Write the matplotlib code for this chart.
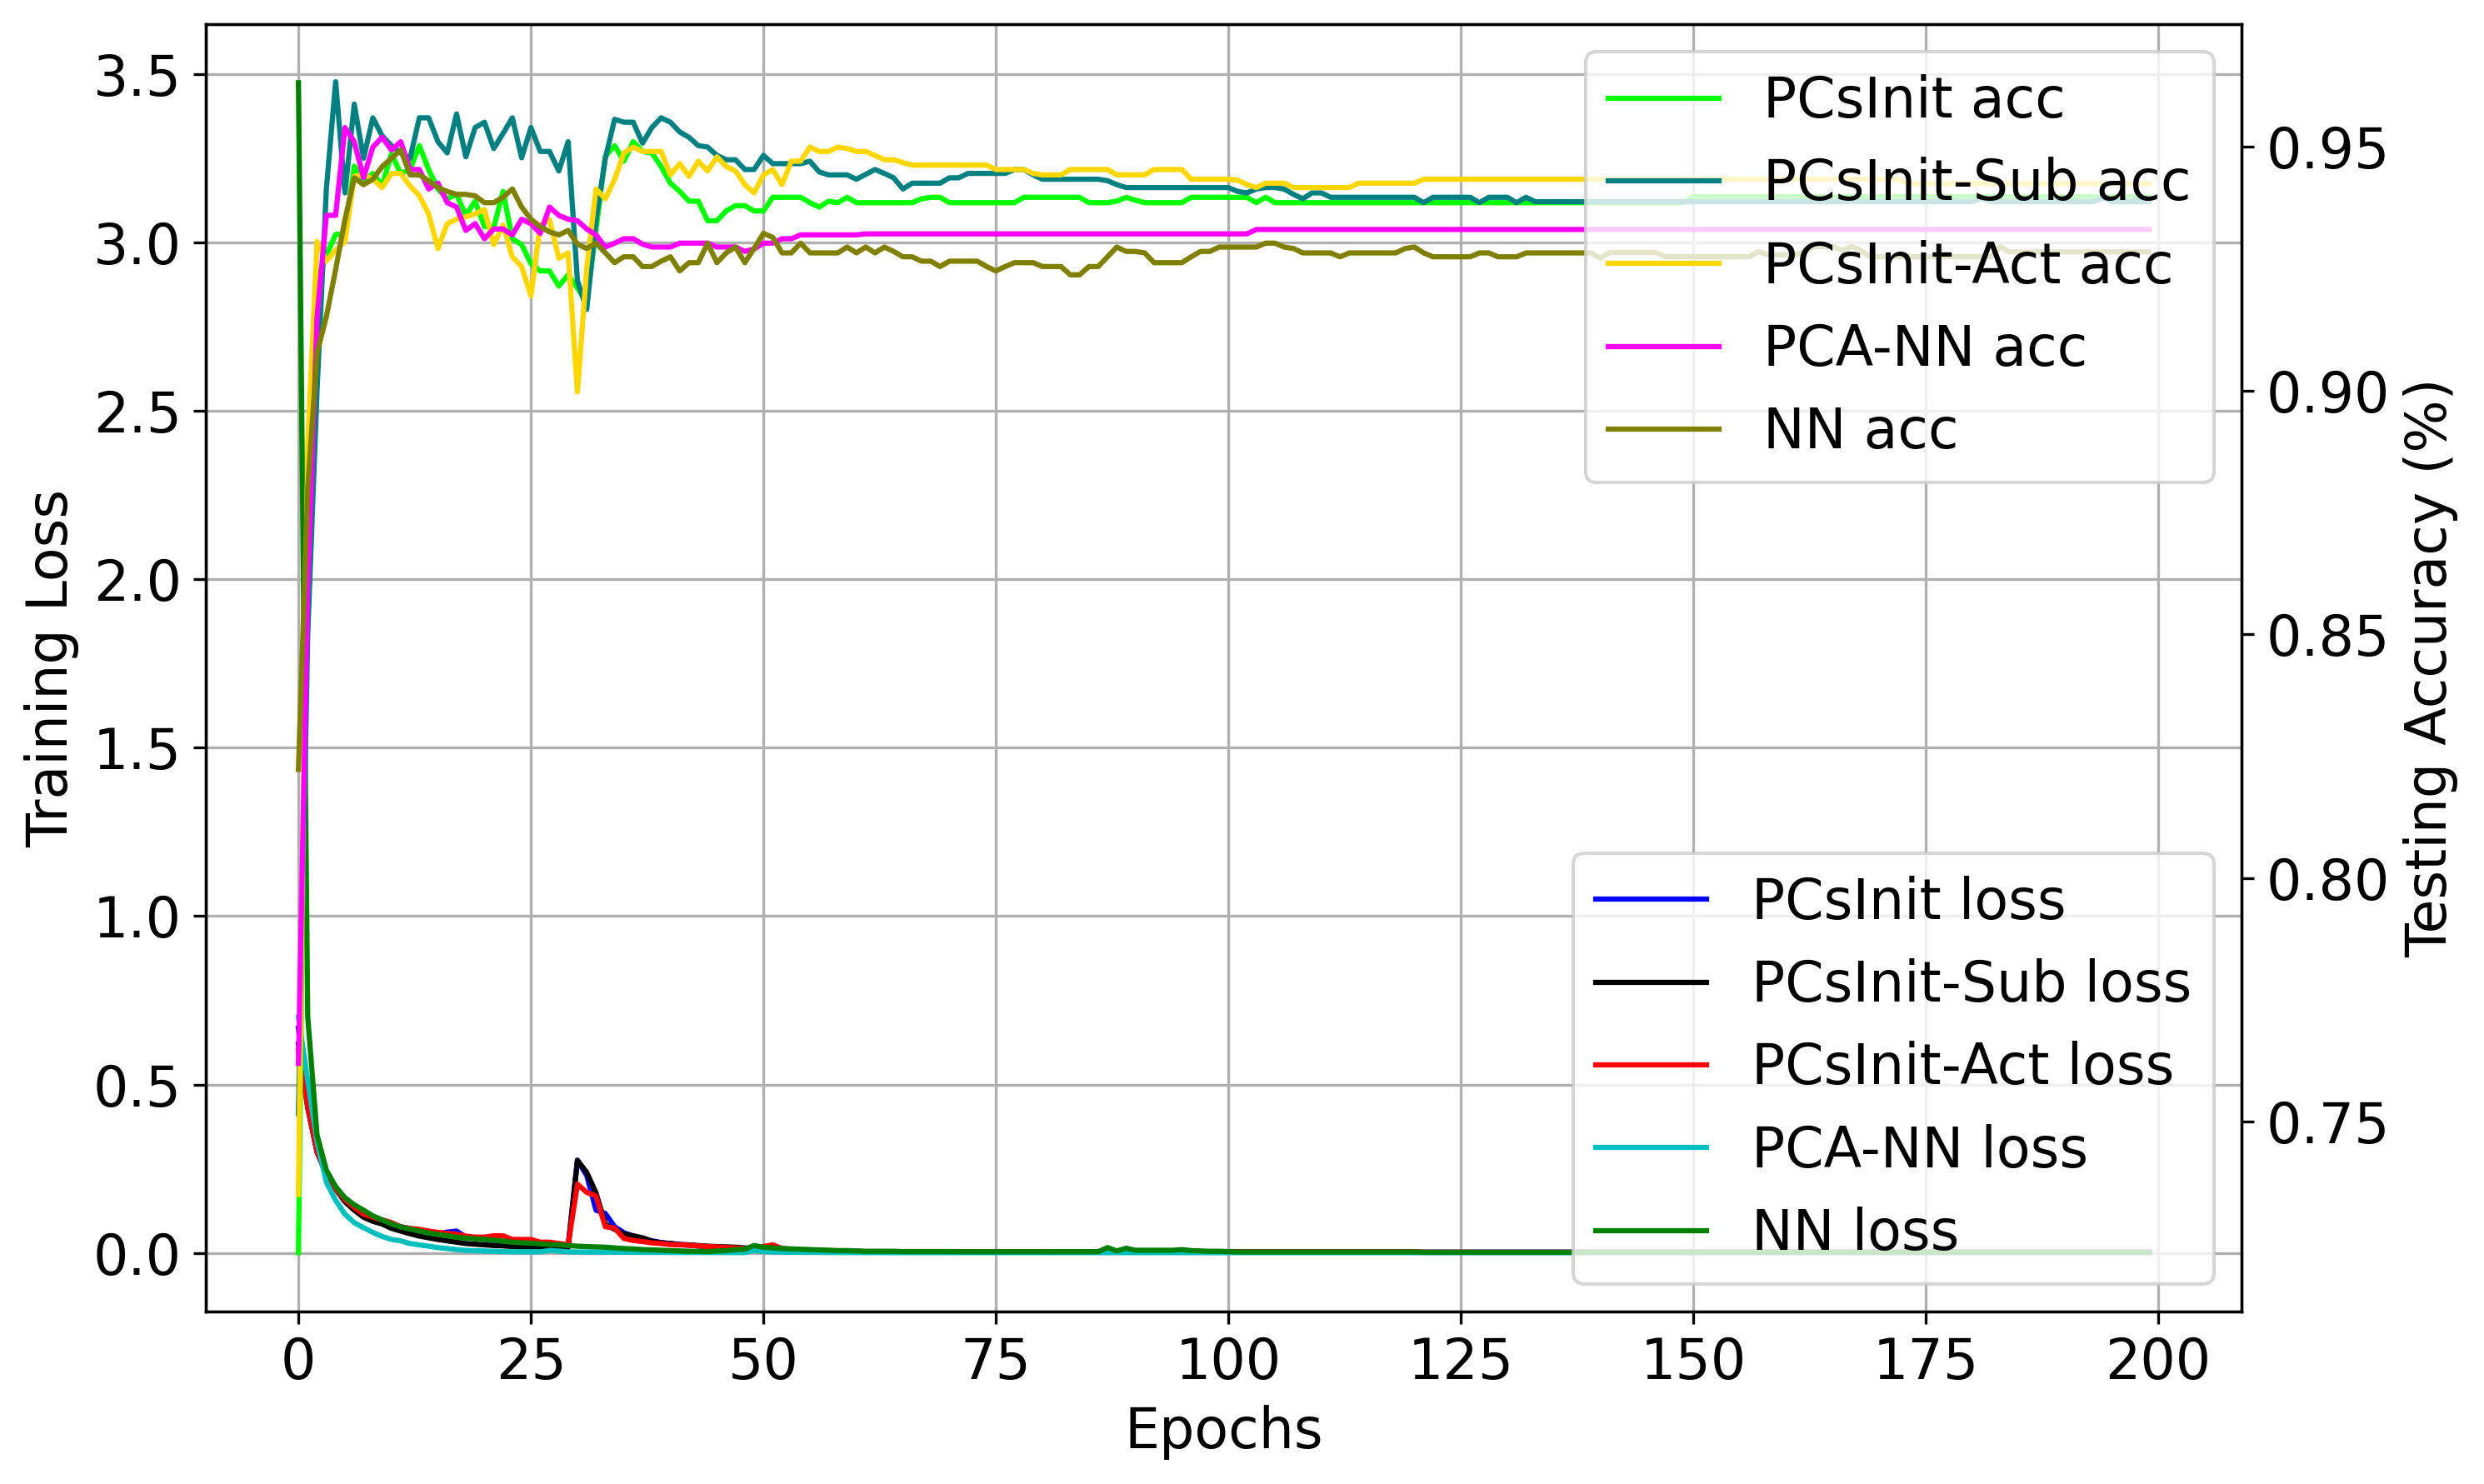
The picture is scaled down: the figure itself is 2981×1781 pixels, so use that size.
import matplotlib
matplotlib.use("Agg")
import matplotlib.pyplot as plt

plt.rcParams['font.family'] = ['DejaVu Sans']
plt.rcParams['font.size'] = 16

epochs = list(range(200))

# ---------------- Training loss (left axis) ----------------
pcsinit_loss = [0.667, 0.44, 0.30, 0.235, 0.195, 0.162, 0.14, 0.122, 0.108, 0.098,
                0.088, 0.078, 0.072, 0.066, 0.061, 0.057, 0.062, 0.065, 0.047, 0.043,
                0.040, 0.037, 0.034, 0.030, 0.028, 0.026, 0.024, 0.022, 0.021, 0.020,
                0.275, 0.23, 0.127, 0.117, 0.078, 0.060, 0.050, 0.043, 0.036, 0.031,
                0.028, 0.025, 0.023, 0.021, 0.019, 0.018, 0.016, 0.015, 0.013, 0.012,
                0.011, 0.010, 0.009, 0.008, 0.007, 0.006, 0.006, 0.005, 0.005, 0.004,
                0.004] + [0.0035] * 20 + [0.003] * 40 + [0.002] * 79

pcsinit_sub_loss = [0.62, 0.43, 0.30, 0.235, 0.189, 0.152, 0.127, 0.106, 0.094, 0.086,
                    0.073, 0.065, 0.057, 0.050, 0.045, 0.040, 0.036, 0.032, 0.028, 0.026,
                    0.024, 0.022, 0.021, 0.019, 0.018, 0.018, 0.018, 0.017, 0.017, 0.016,
                    0.275, 0.239, 0.178, 0.085, 0.070, 0.056, 0.051, 0.045, 0.035, 0.030,
                    0.028, 0.025, 0.024, 0.022, 0.020, 0.019, 0.018, 0.017, 0.015, 0.013,
                    0.011, 0.010, 0.009, 0.008, 0.007, 0.006, 0.006, 0.005, 0.005, 0.004,
                    0.004] + [0.003] * 20 + [0.0025] * 40 + [0.002] * 79

pcsinit_act_loss = [0.60, 0.435, 0.30, 0.235, 0.19, 0.158, 0.135, 0.115, 0.106, 0.098,
                    0.09, 0.077, 0.073, 0.070, 0.065, 0.061, 0.058, 0.056, 0.050, 0.047,
                    0.047, 0.051, 0.051, 0.040, 0.040, 0.040, 0.032, 0.032, 0.028, 0.025,
                    0.204, 0.18, 0.169, 0.078, 0.074, 0.043, 0.037, 0.034, 0.030, 0.028,
                    0.025, 0.024, 0.023, 0.021, 0.019, 0.018, 0.016, 0.015, 0.013, 0.012,
                    0.019, 0.024, 0.013, 0.011, 0.010, 0.009, 0.008, 0.007, 0.006, 0.005,
                    0.005] + [0.004] * 20 + [0.003] * 40 + [0.002] * 79

pcann_loss = [0.70, 0.51, 0.33, 0.21, 0.156, 0.115, 0.09, 0.075, 0.061, 0.049,
              0.040, 0.036, 0.028, 0.024, 0.020, 0.016, 0.013, 0.010, 0.0075, 0.0066,
              0.0058, 0.005, 0.004, 0.0033, 0.0033, 0.0033, 0.0033, 0.0074, 0.0058, 0.0033,
              0.003, 0.003, 0.0028, 0.0026, 0.0024, 0.0022, 0.002, 0.002, 0.0018, 0.0018,
              0.0016, 0.0016, 0.0015, 0.0015, 0.0014, 0.0014, 0.0013, 0.0013, 0.0012, 0.0074,
              0.004, 0.003, 0.0025, 0.002, 0.002, 0.0018, 0.0016, 0.0015, 0.0014, 0.0013,
              0.0012] + [0.001] * 139

nn_loss = [3.474, 0.70, 0.35, 0.246, 0.197, 0.164, 0.143, 0.127, 0.11, 0.098,
           0.086, 0.077, 0.071, 0.065, 0.059, 0.055, 0.051, 0.047, 0.044, 0.042,
           0.040, 0.038, 0.035, 0.032, 0.030, 0.029, 0.027, 0.025, 0.024, 0.022,
           0.020, 0.019, 0.018, 0.017, 0.015, 0.013, 0.012, 0.010, 0.009, 0.008,
           0.007, 0.006, 0.005, 0.005, 0.004, 0.006, 0.007, 0.010, 0.011, 0.022,
           0.017, 0.015, 0.013, 0.012, 0.011, 0.010, 0.009, 0.008, 0.007, 0.007,
           0.006] + [0.005] * 4 + [0.004] * 6 + [0.0035] * 16 + \
          [0.016, 0.006, 0.014, 0.008] + [0.008] * 4 + [0.010, 0.007, 0.006, 0.005, 0.005, 0.004] + \
          [0.003] * 20 + [0.002] * 79

# ---------------- Testing accuracy (right axis) ----------------
pcsinit_acc = [0.7232, 0.885, 0.9225, 0.9277, 0.932, 0.932, 0.946, 0.943, 0.9445, 0.942,
               0.9485, 0.9445, 0.9453, 0.9502, 0.9453, 0.9413, 0.9393, 0.9402, 0.9359, 0.9388,
               0.9336, 0.9334, 0.9408, 0.9311, 0.9299, 0.926, 0.9245, 0.9245, 0.9214, 0.9237,
               0.921, 0.918, 0.933, 0.948, 0.9502, 0.947, 0.951, 0.949, 0.9487, 0.9459,
               0.9425, 0.9408, 0.9388, 0.9388, 0.9348, 0.9348, 0.9368, 0.9379, 0.9379, 0.9368,
               0.9368, 0.9396, 0.9396, 0.9396, 0.9396, 0.9385, 0.9376, 0.9388, 0.9385, 0.9396,
               0.9385] + [0.9385] * 6 + [0.9393] + [0.9396] * 2 + [0.9385] * 8 + [0.9396] * 7 + \
              [0.9385] * 3 + [0.9388, 0.9396, 0.939] + [0.9385] * 5 + [0.9396] * 7 + \
              [0.9385, 0.9396] + [0.9385] * 45 + [0.9397] * 50

pcsinit_sub_acc = [0.7517, 0.85, 0.90, 0.9413, 0.9633, 0.9405, 0.9587, 0.9476, 0.9559, 0.9522,
                   0.9502, 0.9487, 0.9476, 0.9559, 0.9559, 0.951, 0.9487, 0.9567, 0.9479, 0.9539,
                   0.955, 0.9496, 0.9527, 0.9559, 0.9477, 0.9539, 0.949, 0.949, 0.945, 0.951,
                   0.9225, 0.9166, 0.935, 0.9476, 0.9556, 0.955, 0.955, 0.9507, 0.9539, 0.9559,
                   0.955, 0.953, 0.9519, 0.9502, 0.9499, 0.9482, 0.9473, 0.9473, 0.9453, 0.9453,
                   0.9482, 0.9465, 0.9465, 0.9465, 0.9465, 0.947, 0.9448, 0.9442, 0.9442, 0.9442,
                   0.9433] + [0.9443, 0.9453, 0.9445, 0.9436, 0.9413] + [0.9425] * 4 + \
                  [0.9436] * 2 + [0.9445] * 5 + [0.9453] * 2 + [0.9442] + [0.9433] * 7 + \
                  [0.943, 0.9422] + [0.9416] * 12 + [0.9408, 0.9405, 0.9413] + [0.9416] * 2 + \
                  [0.9413, 0.9402, 0.9393] + [0.9405] * 2 + [0.9396] * 10 + [0.9385] + \
                  [0.9396] * 5 + [0.9385] + [0.9396] * 3 + [0.9385, 0.9396] + [0.9387] * 48 + \
                  [0.9394] + [0.9387] * 12 + [0.9395] + [0.9387] * 5

pcsinit_act_acc = [0.7351, 0.889, 0.9305, 0.9265, 0.9288, 0.9305, 0.9439, 0.9442, 0.9433, 0.9416,
                   0.9445, 0.9445, 0.9419, 0.9399, 0.9362, 0.9291, 0.9342, 0.9351, 0.9356, 0.9362,
                   0.9371, 0.9299, 0.9339, 0.9274, 0.9254, 0.9194, 0.9339, 0.935, 0.9271, 0.9282,
                   0.8997, 0.925, 0.9413, 0.9393, 0.9433, 0.9487, 0.9499, 0.949, 0.949, 0.949,
                   0.9442, 0.9465, 0.9439, 0.947, 0.945, 0.9479, 0.9459, 0.945, 0.9422, 0.9405,
                   0.9442, 0.9453, 0.9422, 0.947, 0.947, 0.9499, 0.949, 0.949, 0.9499, 0.9496,
                   0.949] + [0.949, 0.9482] + [0.9473] * 2 + [0.9467] + [0.9462] * 9 + \
                  [0.9453] * 4 + [0.9445] + [0.9442] * 3 + [0.9453] * 5 + [0.9442] * 4 + \
                  [0.9453] * 4 + [0.9433] * 5 + [0.9431, 0.9422, 0.9416] + [0.9425] * 3 + \
                  [0.9416] * 7 + [0.9425] * 7 + [0.9433] * 52 + [0.9424] * 27

pcann_acc = [0.762, 0.86, 0.915, 0.9359, 0.9359, 0.9539, 0.951, 0.9436, 0.9499, 0.9519,
             0.9493, 0.951, 0.9453, 0.9453, 0.9413, 0.9425, 0.9385, 0.9376, 0.9328, 0.9342,
             0.9311, 0.9331, 0.9331, 0.9319, 0.9351, 0.9342, 0.9322, 0.9376, 0.9359, 0.9351,
             0.9348, 0.9331, 0.9319, 0.9294, 0.9302, 0.9311, 0.9311, 0.93, 0.9294, 0.9294,
             0.9294, 0.9302, 0.9302, 0.9302, 0.9302, 0.9294, 0.9294, 0.9294, 0.9285, 0.929,
             0.9302, 0.9302, 0.9311, 0.9311, 0.9319, 0.9319, 0.9319, 0.9319, 0.9319, 0.9319,
             0.9319] + [0.9321] * 42 + [0.933] * 97

nn_acc = [0.8223, 0.88, 0.9077, 0.9151, 0.9248, 0.935, 0.9436, 0.9422, 0.9433, 0.9459,
          0.9476, 0.9493, 0.9442, 0.9442, 0.943, 0.9416, 0.9408, 0.9402, 0.9402, 0.9399,
          0.9385, 0.9385, 0.9396, 0.9413, 0.9376, 0.9351, 0.9336, 0.9325, 0.9319, 0.9328,
          0.93, 0.9291, 0.9302, 0.9282, 0.9262, 0.9274, 0.9274, 0.9254, 0.9254, 0.9265,
          0.9274, 0.9245, 0.9262, 0.9262, 0.9302, 0.9262, 0.9282, 0.9294, 0.9262, 0.9291,
          0.9322, 0.9314, 0.9282, 0.9282, 0.9302, 0.9282, 0.9282, 0.9282, 0.9282, 0.9294,
          0.9282] + [0.9294, 0.9282, 0.9294, 0.9285] + [0.9274] * 2 + [0.9265] * 2 + [0.9254] + \
         [0.9265] * 4 + [0.9254, 0.9245, 0.9254] + [0.9262] * 3 + [0.9254] * 3 + [0.9237] * 2 + \
         [0.9254] * 2 + [0.9274, 0.9294] + [0.9285] * 2 + [0.9282] + [0.9262] * 4 + [0.9274] + \
         [0.9285] * 2 + [0.9294] * 5 + [0.9302] * 2 + [0.9294, 0.9291] + [0.9282] * 4 + [0.9274] + \
         [0.9282] * 6 + [0.9291, 0.9294, 0.9282] + [0.9274] * 5 + [0.9282] * 2 + [0.9274] * 3 + \
         [0.9282] * 8 + [0.9271] + [0.9283] * 6 + [0.9274] * 10 + [0.9285] + [0.9278] * 4 + \
         [0.9285] + [0.9295] * 3 + [0.9287, 0.9295, 0.9287] + [0.9274] * 14 + [0.9295] + [0.9284] * 16

loss_series = [
    ("PCsInit loss", pcsinit_loss, "b"),
    ("PCsInit-Sub loss", pcsinit_sub_loss, "k"),
    ("PCsInit-Act loss", pcsinit_act_loss, "r"),
    ("PCA-NN loss", pcann_loss, "c"),
    ("NN loss", nn_loss, "g"),
]
acc_series = [
    ("PCsInit acc", pcsinit_acc, "lime"),
    ("PCsInit-Sub acc", pcsinit_sub_acc, "teal"),
    ("PCsInit-Act acc", pcsinit_act_acc, "gold"),
    ("PCA-NN acc", pcann_acc, "magenta"),
    ("NN acc", nn_acc, "olive"),
]

fig, ax = plt.subplots(figsize=(2981 / 300, 1781 / 300), dpi=300)
fig.subplots_adjust(left=0.0829, right=0.9024, bottom=0.1162, top=0.9837)

for label, vals, col in loss_series:
    ax.plot(epochs, vals, color=col, label=label, linewidth=1.5)
ax.set_xlabel("Epochs")
ax.set_ylabel("Training Loss")
ax.set_ylim(-0.174, 3.648)
ax.set_xticks([0, 25, 50, 75, 100, 125, 150, 175, 200])
ax.grid(True)

ax2 = ax.twinx()
for label, vals, col in acc_series:
    ax2.plot(epochs, vals, color=col, label=label, linewidth=1.5)
ax2.set_ylabel("Testing Accuracy (%)")
ax2.set_ylim(0.7111, 0.9751)

ax.legend(loc="lower right", fontsize=16)
ax2.legend(loc="upper right", fontsize=16)

fig.savefig("out.png", dpi=300)
